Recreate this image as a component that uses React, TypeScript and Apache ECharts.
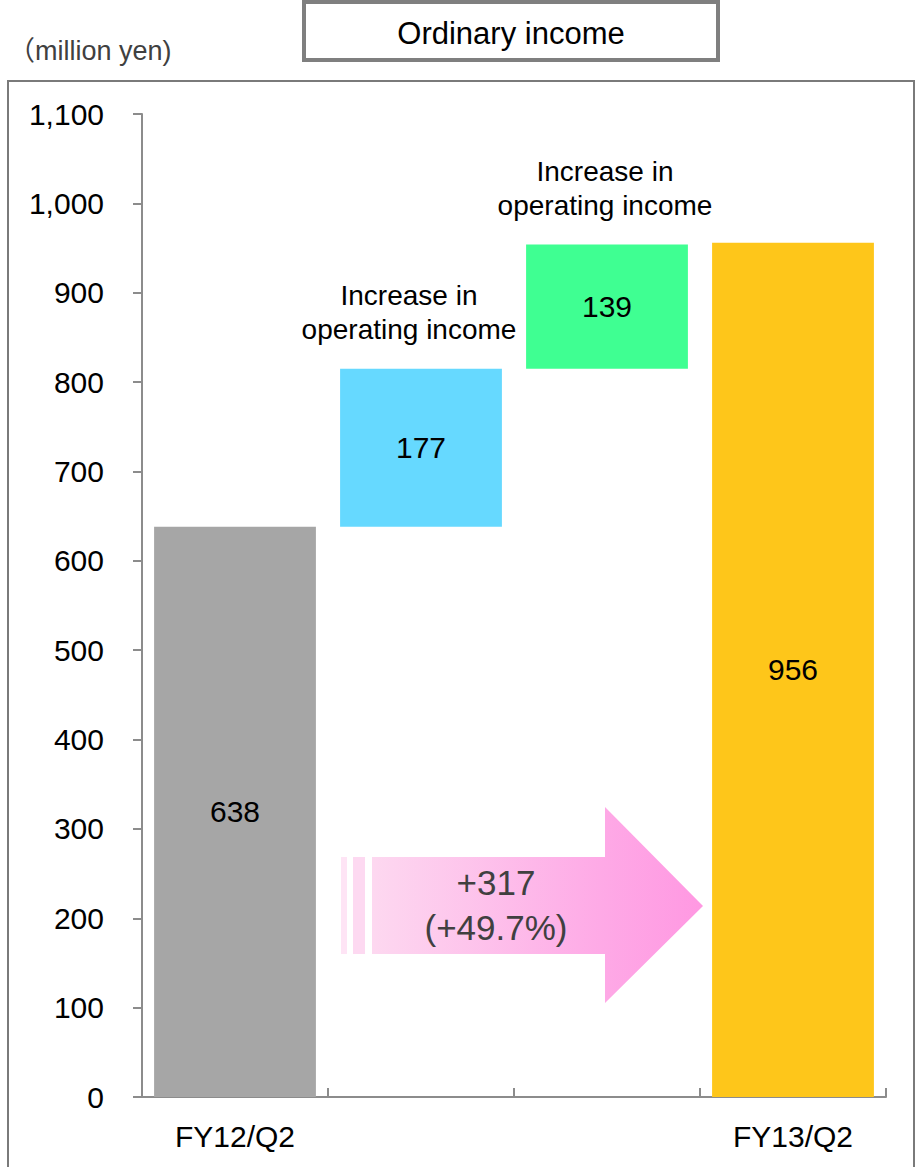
import React, { useEffect, useRef } from "react";
import * as echarts from "echarts";

// Waterfall of ordinary income, FY12/Q2 -> FY13/Q2 (million yen)
const categories = ["FY12/Q2", "", "", "FY13/Q2"];
const stepValues = [638, 177, 139, 956];
const stepColors = ["#a6a6a6", "#66d9ff", "#3fff92", "#fec61a"];
const stepCaptions = ["", "Increase in\noperating income", "Increase in\noperating income", ""];
const yMax = 1100;
const yInterval = 100;
const changeText = "+317\n(+49.7%)";
const titleText = "Ordinary income";
const unitText = "（million yen)";

const FONT = '"Liberation Sans", Arial, "Noto Sans CJK JP", sans-serif';

// Invisible offsets so the middle steps float on top of the running total
const stepBases = stepValues.map((_, i) => {
  if (i === 0 || i === stepValues.length - 1) return 0;
  let s = 0;
  for (let k = 0; k < i; k++) s += stepValues[k];
  return s;
});

export default function App() {
  const ref = useRef<HTMLDivElement>(null);

  useEffect(() => {
    if (!ref.current) return;
    const chart = echarts.init(ref.current, null, { renderer: "svg" });

    chart.setOption({
      animation: false,
      backgroundColor: "#ffffff",
      grid: { left: 142, right: 29, top: 114, bottom: 70, containLabel: false },
      xAxis: {
        type: "category",
        data: categories,
        boundaryGap: true,
        axisLine: { show: true, lineStyle: { color: "#8c8c8c", width: 2 } },
        axisTick: { show: true, inside: true, length: 9, alignWithLabel: false, lineStyle: { color: "#8c8c8c", width: 2 } },
        axisLabel: { color: "#000", fontSize: 30, fontFamily: FONT, margin: 24, interval: 0 },
        splitLine: { show: false },
      },
      yAxis: {
        type: "value",
        min: 0,
        max: yMax,
        interval: yInterval,
        axisLine: { show: true, lineStyle: { color: "#8c8c8c", width: 2 } },
        axisTick: { show: true, inside: false, length: 9, lineStyle: { color: "#8c8c8c", width: 2 } },
        axisLabel: {
          color: "#000",
          fontSize: 30,
          fontFamily: FONT,
          margin: 38,
          formatter: (v: number) => v.toLocaleString("en-US"),
        },
        splitLine: { show: false },
      },
      series: [
        {
          type: "bar",
          stack: "wf",
          silent: true,
          barCategoryGap: "13%",
          itemStyle: { color: "transparent" },
          data: stepBases,
        },
        {
          type: "bar",
          stack: "wf",
          barCategoryGap: "13%",
          data: stepValues.map((v, i) => ({ value: v, itemStyle: { color: stepColors[i] } })),
          label: {
            show: true,
            position: "inside",
            color: "#000",
            fontSize: 30,
            fontFamily: FONT,
          },
        },
      ],
    });

    // Captions above the floating steps, placed through the axis scales
    const captionGraphics: any[] = [];
    stepCaptions.forEach((cap, i) => {
      if (!cap) return;
      const top = stepBases[i] + stepValues[i];
      const p = chart.convertToPixel({ xAxisIndex: 0, yAxisIndex: 0 }, [i, top]) as number[];
      captionGraphics.push({
        type: "text",
        x: p[0] - (i === 1 ? 12 : 2),
        y: p[1] - 22,
        style: {
          text: cap,
          fill: "#000",
          fontSize: 28,
          fontFamily: FONT,
          lineHeight: 34,
          align: "center",
          verticalAlign: "bottom",
        },
      });
    });

    const arrowFill = {
      type: "linear",
      x: 0,
      y: 0,
      x2: 1,
      y2: 0,
      colorStops: [
        { offset: 0, color: "#fdd8f0" },
        { offset: 0.7, color: "#fea9e6" },
        { offset: 1, color: "#ff98e2" },
      ],
    };

    chart.setOption({
      graphic: [
        // outer frame
        {
          type: "rect",
          z: -10,
          shape: { x: 8, y: 81, width: 906, height: 1110 },
          style: { fill: "none", stroke: "#7a7a7a", lineWidth: 2 },
        },
        // unit
        {
          type: "text",
          x: 8,
          y: 51,
          style: { text: unitText, fill: "#404040", fontSize: 27, fontFamily: FONT, verticalAlign: "middle" },
        },
        // title box
        {
          type: "rect",
          shape: { x: 304, y: 2, width: 414, height: 58 },
          style: { fill: "#fff", stroke: "#7f7f7f", lineWidth: 4 },
        },
        {
          type: "text",
          x: 511,
          y: 33,
          style: { text: titleText, fill: "#000", fontSize: 31, fontFamily: FONT, align: "center", verticalAlign: "middle" },
        },
        // growth arrow
        {
          type: "rect",
          shape: { x: 341, y: 857, width: 6, height: 97 },
          style: { fill: "#fee4f5" },
        },
        {
          type: "rect",
          shape: { x: 353, y: 857, width: 12, height: 97 },
          style: { fill: "#fdd9f1" },
        },
        {
          type: "polygon",
          shape: {
            points: [
              [372, 857],
              [605, 857],
              [605, 807],
              [703, 906],
              [605, 1003],
              [605, 954],
              [372, 954],
            ],
          },
          style: { fill: arrowFill },
        },
        {
          type: "text",
          x: 496,
          y: 905,
          z: 10,
          style: {
            text: changeText,
            fill: "#404040",
            fontSize: 35,
            fontFamily: FONT,
            lineHeight: 45,
            align: "center",
            verticalAlign: "middle",
          },
        },
        ...captionGraphics,
      ],
    });

    return () => chart.dispose();
  }, []);

  return (
    <div
      ref={ref}
      style={{ position: "fixed", left: 0, top: 0, width: 915, height: 1167 }}
    />
  );
}
